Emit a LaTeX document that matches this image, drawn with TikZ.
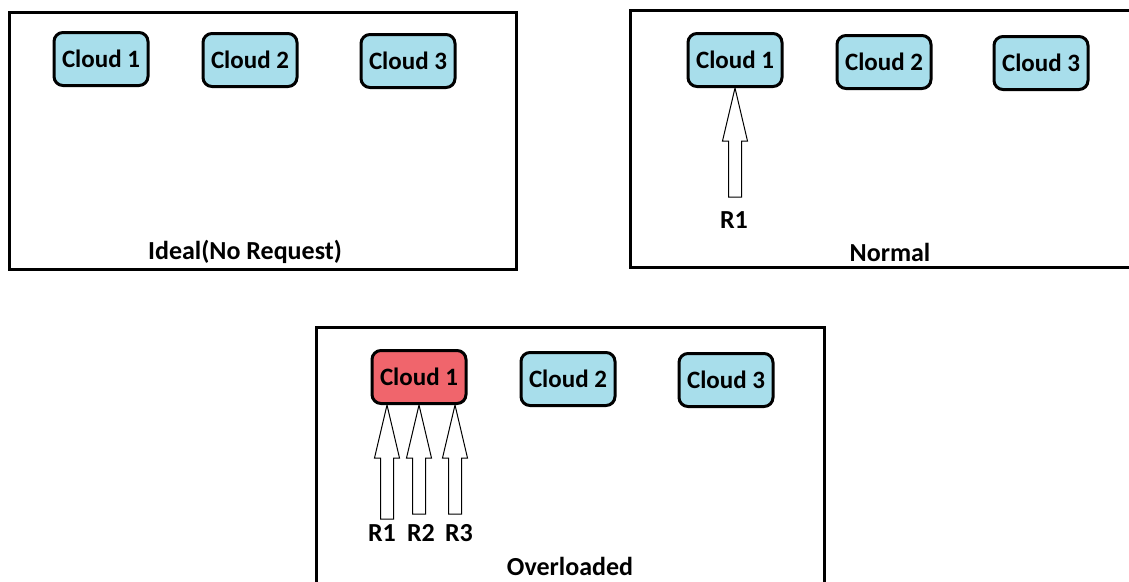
\documentclass[tikz,border=0pt]{standalone}
\usepackage{fontspec}
\setmainfont{Carlito}
\usetikzlibrary{calc}
\definecolor{cloudblue}{RGB}{168,222,235}
\definecolor{cloudred}{RGB}{240,101,108}
\tikzset{
  panel/.style={draw=black, line width=3pt},
  cloud/.style={draw=black, line width=3pt, rounded corners=9pt, fill=cloudblue,
                minimum width=94pt, minimum height=53pt, inner sep=0pt,
                font=\fontsize{25}{29}\selectfont\bfseries},
  busy/.style={fill=cloudred},
  caption/.style={font=\fontsize{26}{30}\selectfont\bfseries, inner sep=0pt},
  reqarrow/.style={draw=black, line width=1pt, fill=white},
}
% hollow block arrow: #1 = tail, #2 = tip (vertical)
\newcommand{\request}[2]{%
  \path[reqarrow] let \p1=(#1), \p2=(#2) in
    (\x2-6.5pt,\y1) -- (\x2-6.5pt,\y2-53pt) -- (\x2-12.5pt,\y2-53pt) -- (\x2,\y2)
    -- (\x2+12.5pt,\y2-53pt) -- (\x2+6.5pt,\y2-53pt) -- (\x2+6.5pt,\y1) -- cycle;}
\begin{document}
\begin{tikzpicture}[x=1pt, y=-1pt]
    \useasboundingbox (0,0) rectangle (1129,581);
    \clip (0,0) rectangle (1129,581);
    % ideal: no request
    \draw[panel] (9,12) rectangle (516,269);
    \node[cloud] (i1) at (101,59) {Cloud 1};
    \node[cloud] (i2) at (250,60) {Cloud 2};
    \node[cloud] (i3) at (408,61) {Cloud 3};
    \node[caption] (ititle) at (245,252) {Ideal(No Request)};
    % normal: one request
    \draw[panel] (630,10) rectangle (1145,267);
    \node[cloud] (n1) at (735,60) {Cloud 1};
    \node[cloud] (n2) at (884,62) {Cloud 2};
    \node[cloud] (n3) at (1041,63) {Cloud 3};
    \coordinate (nr1) at (734,197);
    \request{nr1}{n1.south}
    \node[caption] (nlab1) at (734,220) {R1};
    \node[caption] (ntitle) at (890,252) {Normal};
    % overloaded: three requests on cloud 1
    \draw[panel] (316,327) rectangle (824,610);
    \node[cloud, busy] (o1) at (419,377) {Cloud 1};
    \node[cloud] (o2) at (568,379) {Cloud 2};
    \node[cloud] (o3) at (726,380) {Cloud 3};
    \coordinate (or1) at (386,519);
    \coordinate (or2) at (420,514);
    \coordinate (or3) at (455,514);
    \request{or1}{[xshift=-32pt]o1.south}
    \request{or2}{o1.south}
    \request{or3}{[xshift=36pt]o1.south}
    \node[caption] (olab1) at (382,533) {R1};
    \node[caption] (olab2) at (421,533) {R2};
    \node[caption] (olab3) at (459,533) {R3};
    \node[caption] (otitle) at (570,566) {Overloaded};
\end{tikzpicture}
\end{document}
